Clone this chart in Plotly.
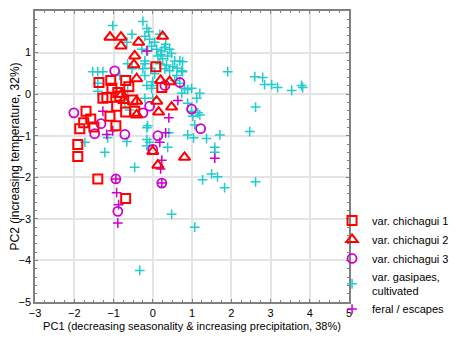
import plotly.graph_objects as go

# var. chichagui 1 (squares)
c1_x = [0.08, -1.37, -1.07, -0.69, -0.61, -0.89, -1.04, -1.27, -1.17, -0.84, -0.92, -0.69, -0.46,
        -1.09, -0.94, -1.70, -1.76, -1.58, -1.86, -1.50, -1.91, -1.91, -1.40, -0.69, 0.23, -0.51]
c1_y = [0.66, 0.28, 0.33, 0.33, 0.18, 0.04, 0.14, -0.10, -0.08, -0.05, -0.29, -0.43, -0.41,
        -0.53, -0.76, -0.41, -0.69, -0.60, -0.83, -0.79, -1.21, -1.50, -2.04, -2.51, 0.16, -0.14]

# var. chichagui 2 (triangles)
c2_x = [-1.09, -0.81, -0.81, -0.36, 0.25, -0.46, -0.48, -0.41, 0.20, 0.43, -0.74, -0.41, 0.10,
        0.48, 0.15, -0.41, -0.79, 0.00, 0.81, 0.13]
c2_y = [1.37, 1.37, 1.16, 1.25, 1.39, 0.92, 0.71, 0.37, 0.33, 0.30, -0.15, -0.17, -0.17,
        -0.31, -0.43, -0.50, 0.00, -1.38, -1.52, -1.71]

# var. chichagui 3 (circles)
c3_x = [-0.97, -2.01, -1.32, -1.48, -0.71, -0.25, -0.08, 0.13, 0.00, 0.31, 0.69, 0.99, 1.22,
        -0.94, 0.23, -0.89]
c3_y = [0.56, -0.45, -0.71, -0.95, -0.97, -0.45, -0.29, -1.00, -1.33, 0.21, 0.28, -0.36, -0.83,
        -2.04, -2.14, -2.82]

# var. gasipaes, cultivated (cyan crosses)
gas_x = [-1.02, -0.25, -0.15, -0.53, -0.20, -0.08, 0.05, -0.03, 0.10, 0.23, -0.13, 0.13, 0.25,
         0.38, 0.56, 0.69, 0.51, 0.74, 0.43, 0.61, 0.56, 0.69, 0.00, -0.20, -0.20, -0.25, -0.20,
         0.05, -0.03, 1.91, -0.66, -0.28, -1.53, -1.40, -1.27, -0.53, -0.64, -0.84, -1.40, -0.15,
         0.89, 0.74, 0.89, 0.99, 1.07, 0.89, 1.04, -0.15, -0.15, -0.08, 0.41, -0.66, -1.22, -1.73,
         -0.59, -0.71, -0.03, 0.99, 1.20, 1.12, 1.20, 1.02, -0.20, 0.00, 1.71, 1.58, 1.58, -0.13,
         0.38, -0.15, 0.76, 0.76, 0.81, 1.15, 1.37, 2.60, 2.80, 2.85, 3.03, 3.18, 3.54, 3.79, 3.82,
         2.62, 2.47, 1.27, 1.50, 1.65, 1.83, 2.62, 1.07, -0.46, 0.48, -0.33, -1.15, -0.64, -1.40,
         0.18, 0.33, 0.43, 0.18, 0.31, -0.10, 0.30, 0.48, 0.20, 0.35, 0.62, -0.05]
gas_y = [1.65, 1.75, 1.58, 1.44, 1.39, 1.32, 1.25, 1.16, 1.08, 1.04, 1.04, 0.92, 0.85,
         0.92, 0.80, 0.80, 0.66, 0.56, 0.56, 0.45, 0.33, 0.26, 0.30, 0.73, 0.80, 0.61, 0.45,
         0.49, 0.21, 0.54, 1.25, 1.08, 0.54, 0.54, 0.54, 0.61, 0.73, 0.45, 0.26, 0.21,
         0.11, 0.02, -0.22, -0.41, -0.74, -0.98, -1.05, -0.81, -1.09, -1.16, -0.93, -1.14, -1.40, -1.16,
         -0.38, -0.22, 0.14, 0.14, 0.02, -0.10, -0.50, -0.53, -0.10, -0.10, -0.98, -1.28, -1.40, -0.76,
         -1.28, -1.24, 0.78, 0.54, 0.14, -0.45, -1.07, 0.42, 0.40, 0.23, 0.23, 0.16, 0.09, 0.21, 0.16,
         -0.31, -0.90, -2.06, -1.92, -1.99, -2.25, -2.11, -3.20, -1.76, -2.89, -4.24, -1.05, 0.09, 0.07,
         1.44, 1.20, 1.08, 0.73, 0.61, 1.50, 1.12, 0.98, 0.95, 0.70, 0.62, 0.62]

# feral / escapes (magenta crosses)
fer_x = [-0.15, -1.27, -1.17, -1.02, 0.41, 0.64, 0.33, 0.18, 1.58, 0.23, 0.20, -0.92, -0.87,
         -0.89, -0.94, 0.23]
fer_y = [1.04, -0.41, -0.97, -0.88, -0.57, -0.15, -0.93, -1.16, -1.54, -1.59, -1.80, -2.37, -2.66,
         -3.10, -2.04, -2.14]

RED = "#FF0000"
MAG = "#CC00CC"
CYAN = "#22CCCC"
FONT = "Liberation Sans, Arial, sans-serif"

fig = go.Figure()
fig.add_trace(go.Scatter(x=gas_x, y=gas_y, mode="markers", name="var. gasipaes,<br>cultivated",
                         legendrank=4,
                         marker=dict(symbol="cross-thin-open", size=7, color=CYAN,
                                     line=dict(width=1.5, color=CYAN))))
fig.add_trace(go.Scatter(x=fer_x, y=fer_y, mode="markers", name="feral / escapes",
                         legendrank=5,
                         marker=dict(symbol="cross-thin-open", size=7, color=MAG,
                                     line=dict(width=1.5, color=MAG))))
fig.add_trace(go.Scatter(x=c3_x, y=c3_y, mode="markers", name="var. chichagui 3",
                         legendrank=3,
                         marker=dict(symbol="circle-open", size=9, color=MAG,
                                     line=dict(width=1.8, color=MAG))))
fig.add_trace(go.Scatter(x=c2_x, y=c2_y, mode="markers", name="var. chichagui 2",
                         legendrank=2,
                         marker=dict(symbol="triangle-up-open", size=10, color=RED,
                                     line=dict(width=2, color=RED))))
fig.add_trace(go.Scatter(x=c1_x, y=c1_y, mode="markers", name="var. chichagui 1",
                         legendrank=1,
                         marker=dict(symbol="square-open", size=9, color=RED,
                                     line=dict(width=2, color=RED))))

axis_common = dict(showline=True, linecolor="#808080", linewidth=1.5, mirror="ticks",
                   ticks="inside", ticklen=3, tickcolor="#808080", automargin=False,
                   showgrid=True, gridcolor="#E4E4E4", gridwidth=1.5, zeroline=False,
                   tickfont=dict(family=FONT, size=11, color="#000000"))

fig.update_xaxes(range=[-3, 5], dtick=1, tick0=-3,
                 minor=dict(dtick=0.25, ticks="inside", ticklen=2, tickcolor="#808080", showgrid=False),
                 title=dict(text="PC1 (decreasing seasonality & increasing precipitation, 38%)",
                            font=dict(family=FONT, size=11, color="#000000"), standoff=4),
                 **axis_common)
fig.update_yaxes(range=[-5, 2], dtick=1, tick0=-5,
                 minor=dict(dtick=0.2, ticks="inside", ticklen=2, tickcolor="#808080", showgrid=False),
                 title=dict(text="PC2 (increasing temperature, 32%)",
                            font=dict(family=FONT, size=12, color="#000000"), standoff=4),
                 **axis_common)

fig.update_layout(
    width=457, height=341,
    margin=dict(l=27, r=116, t=3, b=47, autoexpand=False),
    plot_bgcolor="white", paper_bgcolor="white",
    font=dict(family=FONT, size=12, color="#000000"),
    legend=dict(x=0.946, y=0.33, xanchor="left", yanchor="top",
                font=dict(family=FONT, size=11, color="#000000"),
                itemsizing="trace", tracegroupgap=0, itemwidth=30,
                bgcolor="rgba(0,0,0,0)"),
    showlegend=True,
)

fig.write_html("out.html")
